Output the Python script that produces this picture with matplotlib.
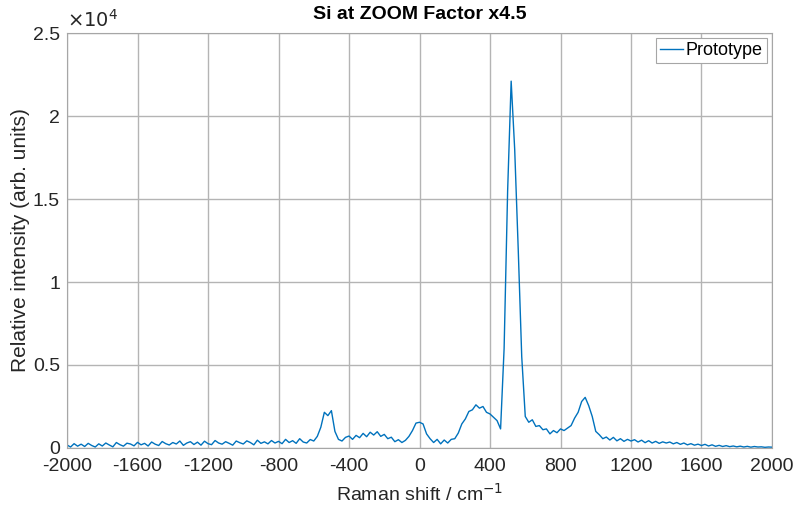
import numpy as np
import matplotlib
matplotlib.use("Agg")
import matplotlib.pyplot as plt
from matplotlib.ticker import FixedFormatter

# Raman shift grid (cm^-1), one value every 20 cm^-1
shift = np.arange(-2000, 2001, 20)

# intensity (counts), rows of 10 points = 200 cm^-1
intensity = [
    180, 60, 260, 110, 230, 90, 280, 150, 60, 250,            # -2000 .. -1820
    120, 300, 180, 70, 330, 200, 110, 290, 240, 130,          # -1800 .. -1620
    340, 190, 280, 120, 360, 230, 150, 390, 260, 180,         # -1600 .. -1420
    330, 240, 420, 160, 300, 380, 210, 350, 170, 410,         # -1400 .. -1220
    260, 200, 450, 300, 230, 380, 280, 170, 420, 320,         # -1200 .. -1020
    240, 430, 330, 190, 470, 280, 370, 250, 450, 300,         # -1000 .. -820
    400, 260, 520, 330, 440, 280, 560, 360, 300, 510,         # -800 .. -620
    420, 700, 1250, 2150, 1950, 2250, 1000, 520, 420, 640,    # -600 .. -420
    720, 520, 760, 620, 880, 680, 950, 780, 980, 700,         # -400 .. -220
    820, 560, 650, 380, 500, 330, 460, 700, 1050, 1500,       # -200 .. -20
    1550, 1450, 850, 560, 330, 520, 250, 480, 300, 520,       # 0 .. 180
    560, 900, 1450, 1750, 2200, 2300, 2600, 2400, 2500, 2150,  # 200 .. 380
    2050, 1850, 1650, 1150, 6000, 15500, 22100, 18000, 12000, 5500,  # 400 .. 580
    1900, 1550, 1700, 1300, 1350, 1100, 1150, 850, 1050, 920,  # 600 .. 780
    1150, 1050, 1200, 1350, 1800, 2150, 2800, 3050, 2550, 1900,  # 800 .. 980
    1000, 800, 560, 660, 480, 640, 430, 560, 400, 520,        # 1000 .. 1180
    420, 500, 360, 470, 320, 440, 300, 400, 280, 370,         # 1200 .. 1380
    300, 360, 250, 330, 220, 300, 190, 260, 170, 230,         # 1400 .. 1580
    150, 220, 120, 190, 100, 160, 90, 140, 80, 120,           # 1600 .. 1780
    70, 110, 60, 100, 50, 90, 60, 70, 40, 60,                 # 1800 .. 1980
    50,                                                       # 2000
]

x_ticks = np.arange(-2000, 2001, 400)
y_ticks = [0, 5000, 10000, 15000, 20000, 25000]
y_tick_labels = ['0', '0.5', '1', '1.5', '2', '2.5']

plt.rcParams['font.family'] = ['Liberation Sans', 'DejaVu Sans']
plt.rcParams['axes.unicode_minus'] = False

fig = plt.figure(figsize=(7.99, 5.11), dpi=100)
ax = fig.add_axes([0.0839, 0.1233, 0.8823, 0.8121])

ax.plot(shift, intensity, color='#0072BD', linewidth=1.0, label='Prototype')

ax.set_xlim(-2000, 2000)
ax.set_ylim(0, 25000)
ax.set_xticks(x_ticks)
ax.set_yticks(y_ticks)
ax.yaxis.set_major_formatter(FixedFormatter(y_tick_labels))
ax.text(0.0, 1.006, r'$\times10^{4}$', transform=ax.transAxes, fontsize=14,
        color='#262626', ha='left', va='bottom')

ax.grid(True, color='#b4b4b4', linewidth=1.0)
ax.set_axisbelow(True)
ax.tick_params(direction='in', length=0, labelsize=14, colors='#262626')
ax.tick_params(axis='x', pad=7)
ax.tick_params(axis='y', pad=5)
for sp in ax.spines.values():
    sp.set_color('#a6a6a6')
    sp.set_linewidth(0.8)

ax.set_xlabel('Raman shift / cm$^{-1}$', fontsize=14, color='#262626', labelpad=6)
ax.set_ylabel('Relative intensity (arb. units)', fontsize=15, color='#262626', labelpad=2)
ax.set_title('Si at ZOOM Factor x4.5', fontsize=14, fontweight='bold', color='black', pad=10)

leg = ax.legend(loc='upper right', fontsize=13, fancybox=False, framealpha=1,
                edgecolor='#a6a6a6', handlelength=1.3, handletextpad=0.15,
                borderpad=0.2, borderaxespad=0.3)
leg.get_frame().set_linewidth(0.8)

fig.savefig('out.png', dpi=100)
